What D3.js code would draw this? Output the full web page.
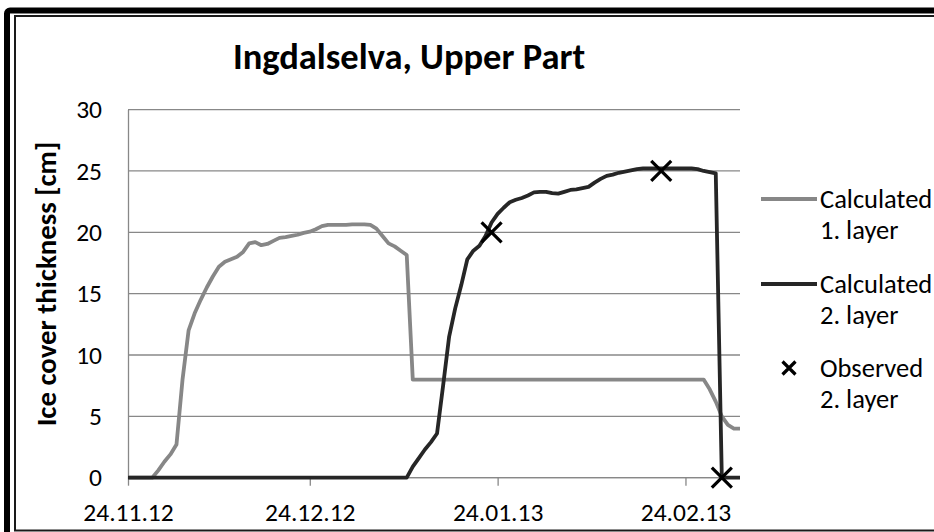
<!DOCTYPE html>
<html>
<head>
<meta charset="utf-8">
<script src="https://cdnjs.cloudflare.com/ajax/libs/d3/7.8.5/d3.min.js"></script>
<style>
body { margin: 0; background: #fff; }
svg { display: block; font-family: Calibri, Carlito, Lato, sans-serif; }
</style>
</head>
<body>
<div id="chart"></div>
<script>
// ---------------- data ----------------
var layer1Dates = ["2012-11-24","2012-11-28","2012-11-29","2012-11-30","2012-12-01","2012-12-02","2012-12-03",
    "2012-12-04","2012-12-05","2012-12-06","2012-12-07","2012-12-08","2012-12-09","2012-12-10","2012-12-11",
    "2012-12-12","2012-12-13","2012-12-14","2012-12-15","2012-12-16","2012-12-17","2012-12-18","2012-12-19",
    "2012-12-20","2012-12-21","2012-12-22","2012-12-23","2012-12-24","2012-12-25","2012-12-26","2012-12-27",
    "2012-12-30","2012-12-31","2013-01-02","2013-01-03","2013-01-04","2013-01-05","2013-01-06","2013-01-07",
    "2013-01-08","2013-01-09","2013-01-10","2013-02-27","2013-02-28","2013-03-01","2013-03-02","2013-03-03",
    "2013-03-04","2013-03-05"];
var layer1Values = [0,0,0.6,1.3,1.9,2.7,8.0,
    12.0,13.4,14.5,15.5,16.4,17.2,17.6,17.8,
    18.0,18.4,19.1,19.2,18.95,19.05,19.3,19.55,
    19.6,19.7,19.8,19.95,20.05,20.25,20.5,20.6,
    20.6,20.65,20.65,20.6,20.3,19.7,19.1,18.85,
    18.5,18.15,8.0,8.0,7.2,6.2,5.0,4.3,
    4.0,4.0];

var layer2Dates = ["2012-11-24","2013-01-09","2013-01-10","2013-01-11","2013-01-12","2013-01-13","2013-01-14",
    "2013-01-15","2013-01-16","2013-01-17","2013-01-18","2013-01-19","2013-01-20","2013-01-21","2013-01-22",
    "2013-01-23","2013-01-24","2013-01-25","2013-01-26","2013-01-27","2013-01-28","2013-01-29","2013-01-30",
    "2013-01-31","2013-02-01","2013-02-02","2013-02-03","2013-02-04","2013-02-05","2013-02-06","2013-02-07",
    "2013-02-08","2013-02-09","2013-02-10","2013-02-11","2013-02-12","2013-02-13","2013-02-14","2013-02-15",
    "2013-02-16","2013-02-17","2013-02-25","2013-02-26","2013-02-27","2013-02-28","2013-03-01","2013-03-02",
    "2013-03-05"];
var layer2Values = [0,0,0.9,1.6,2.3,2.9,3.6,
    7.5,11.5,13.8,15.7,17.8,18.5,18.9,19.7,
    20.8,21.5,22.0,22.45,22.65,22.8,23.0,23.25,
    23.3,23.3,23.2,23.15,23.3,23.45,23.5,23.6,
    23.7,24.05,24.35,24.6,24.7,24.85,24.95,25.05,
    25.15,25.2,25.2,25.15,25.0,24.9,24.8,0,
    0];

var observedDates = ["2013-01-23","2013-02-20","2013-03-02"];
var observedValues = [20, 25, 0];

var xTickDates = ["2012-11-24","2012-12-24","2013-01-24","2013-02-24"];
var xDomain = ["2012-11-24","2013-03-05"];
var yTicks = [0, 5, 10, 15, 20, 25, 30];

var legendItems = [
    {label: ["Calculated", "1. layer"], type: "line", color: "#878787"},
    {label: ["Calculated", "2. layer"], type: "line", color: "#262626"},
    {label: ["Observed", "2. layer"], type: "cross", color: "#000"}
];

// ---------------- setup ----------------
var parse = d3.utcParse("%Y-%m-%d");
var fmt = d3.utcFormat("%d.%m.%y");
var width = 934, height = 532;
var plot = {left: 128, right: 740, top: 109.6, bottom: 477.7};
var fontFamily = "Calibri, Carlito, Lato, sans-serif";

function zip(dates, values) {
    return dates.map(function (d, i) { return {date: parse(d), value: values[i]}; });
}
var layer1 = zip(layer1Dates, layer1Values);
var layer2 = zip(layer2Dates, layer2Values);
var observed = zip(observedDates, observedValues);

var x = d3.scaleUtc().domain(xDomain.map(parse)).range([plot.left, plot.right]);
var y = d3.scaleLinear().domain([0, 30]).range([plot.bottom, plot.top]);

var svg = d3.select("#chart")
    .append("svg")
    .attr("width", width)
    .attr("height", height);

// frame (cropped on right & bottom like the source)
svg.append("rect")
    .attr("x", 7).attr("y", 10.5)
    .attr("width", 1000).attr("height", 600)
    .attr("rx", 3)
    .attr("fill", "#fff")
    .attr("stroke", "#000")
    .attr("stroke-width", 6);
svg.append("rect")
    .attr("x", 15).attr("y", 16)
    .attr("width", 1000).attr("height", 514.5)
    .attr("fill", "none")
    .attr("stroke", "#1a1a1a")
    .attr("stroke-width", 2);

// title
svg.append("text")
    .attr("x", 409).attr("y", 68.5)
    .attr("text-anchor", "middle")
    .style("font-weight", "bold")
    .style("font-size", "36.5px")
    .text("Ingdalselva, Upper Part");

// gridlines
svg.append("g")
    .selectAll("line")
    .data(yTicks)
    .enter()
    .append("line")
    .attr("x1", plot.left).attr("x2", plot.right)
    .attr("y1", function (d) { return y(d); })
    .attr("y2", function (d) { return y(d); })
    .attr("stroke", "#888")
    .attr("stroke-width", 1.3);

// y axis
var yAxis = d3.axisLeft(y).tickValues(yTicks).tickSize(0).tickPadding(26);
var yG = svg.append("g").attr("transform", "translate(" + plot.left + ",0)").call(yAxis);
yG.select(".domain").attr("stroke", "#888").attr("stroke-width", 1.3);
yG.selectAll("text").style("font-size", "25.5px").style("font-family", fontFamily).attr("fill", "#000");

// x axis
var xAxis = d3.axisBottom(x).tickValues(xTickDates.map(parse)).tickFormat(fmt).tickSize(8).tickPadding(17);
var xG = svg.append("g").attr("transform", "translate(0," + plot.bottom + ")").call(xAxis);
xG.select(".domain").attr("d", "M" + plot.left + ",0H" + plot.right).attr("stroke", "#888").attr("stroke-width", 1.3);
xG.selectAll(".tick line").attr("stroke", "#888").attr("stroke-width", 1.3);
xG.selectAll("text").style("font-size", "25.5px").style("font-family", fontFamily).attr("fill", "#000");

// y axis title
svg.append("text")
    .attr("transform", "translate(55.5,284)rotate(-90)")
    .attr("text-anchor", "middle")
    .style("font-weight", "bold")
    .style("font-size", "28.8px")
    .text("Ice cover thickness [cm]");

// series
var line = d3.line()
    .x(function (d) { return x(d.date); })
    .y(function (d) { return y(d.value); });

svg.append("path")
    .datum(layer1)
    .attr("d", line)
    .attr("fill", "none")
    .attr("stroke", legendItems[0].color)
    .attr("stroke-width", 3.8)
    .attr("stroke-linejoin", "round");

svg.append("path")
    .datum(layer2)
    .attr("d", line)
    .attr("fill", "none")
    .attr("stroke", legendItems[1].color)
    .attr("stroke-width", 3.8)
    .attr("stroke-linejoin", "round");

function cross(sel, size, sw) {
    sel.append("path")
        .attr("d", "M" + (-size) + "," + (-size) + "L" + size + "," + size + "M" + (-size) + "," + size + "L" + size + "," + (-size))
        .attr("stroke", "#000")
        .attr("stroke-width", sw);
}

svg.append("g")
    .selectAll("g")
    .data(observed)
    .enter()
    .append("g")
    .attr("transform", function (d) { return "translate(" + x(d.date) + "," + y(d.value) + ")"; })
    .each(function () { cross(d3.select(this), 10, 3.2); });

// legend
var legendY = [199, 284, 368];
var legend = svg.append("g");
legendItems.forEach(function (item, i) {
    var g = legend.append("g").attr("transform", "translate(0," + legendY[i] + ")");
    if (item.type === "line") {
        g.append("line")
            .attr("x1", 761).attr("x2", 817)
            .attr("stroke", item.color)
            .attr("stroke-width", 4);
    } else {
        var c = g.append("g").attr("transform", "translate(789,0)");
        cross(c, 6.5, 3.2);
    }
    g.append("text")
        .attr("x", 820)
        .attr("y", 8.5)
        .style("font-size", "26.5px")
        .text(item.label[0]);
    g.append("text")
        .attr("x", 820)
        .attr("y", 40)
        .style("font-size", "26.5px")
        .text(item.label[1]);
});
</script>
</body>
</html>
